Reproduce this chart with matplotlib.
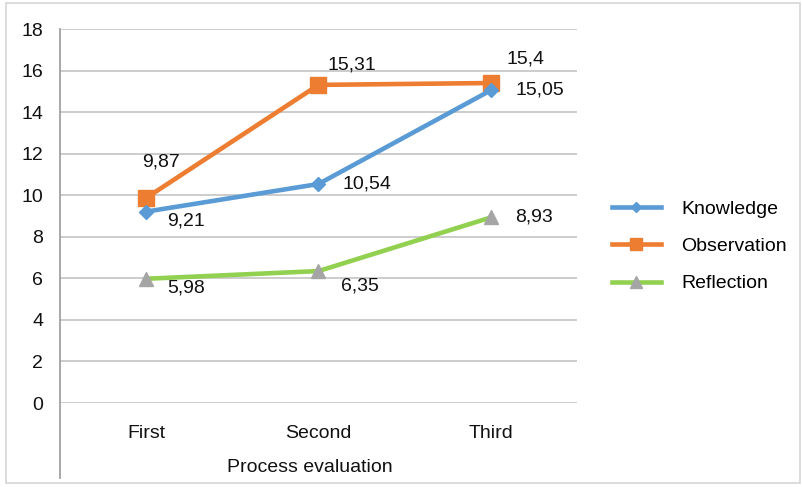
import matplotlib.pyplot as plt
from matplotlib.lines import Line2D
from matplotlib.patches import Rectangle

plt.rcParams["font.family"] = ["Liberation Sans", "DejaVu Sans"]

stages = ["First", "Second", "Third"]
knowledge = [9.21, 10.54, 15.05]
observation = [9.87, 15.31, 15.4]
reflection = [5.98, 6.35, 8.93]
y_ticks = [0, 2, 4, 6, 8, 10, 12, 14, 16, 18]

# label offsets in points (dx, dy) for each series
knowledge_offsets = [(29, -7), (35, 0), (35, 0)]
observation_offsets = [(11, 26), (24, 14), (25, 17)]
reflection_offsets = [(29, -7), (30, -11), (31, 0)]

W, H = 803, 487
FS = 14
fig = plt.figure(figsize=(W / 100, H / 100), dpi=100)
ax = fig.add_axes([60 / W, 1 - 403 / H, 517 / W, 374 / H])

x = list(range(len(stages)))
ax.plot(x, knowledge, color="#5B9BD5", lw=3.3, marker="D", ms=7,
        mec="#5B9BD5", mfc="#5B9BD5", label="Knowledge", zorder=4)
ax.plot(x, observation, color="#ED7D31", lw=3.3, marker="s", ms=11.5,
        mec="#ED7D31", mfc="#ED7D31", label="Observation", zorder=3)
ax.plot(x, reflection, color="#92D050", lw=3.3, marker="^", ms=10.5,
        mec="#A5A5A5", mfc="#A5A5A5", label="Reflection", zorder=3)

def fmt(v):
    return f"{v:g}".replace(".", ",")

for series, offsets in ((knowledge, knowledge_offsets),
                        (observation, observation_offsets),
                        (reflection, reflection_offsets)):
    for xi, v, off in zip(x, series, offsets):
        ax.annotate(fmt(v), (xi, v), xytext=off, textcoords="offset points",
                    ha="center", va="center", fontsize=FS, color="#111111")

ax.set_xlim(-0.5, 2.5)
ax.set_ylim(0, 18)
ax.set_yticks(y_ticks)
ax.set_xticks(x)
ax.set_xticklabels(stages)
ax.tick_params(axis="both", length=0, labelsize=FS, colors="#111111")
ax.tick_params(axis="y", pad=12)
ax.tick_params(axis="x", pad=16)
ax.grid(axis="y", color="#C4C4C4", lw=1.2)
ax.set_axisbelow(True)
for side in ("top", "right", "bottom", "left"):
    ax.spines[side].set_visible(False)

ax.set_xlabel("Process evaluation", fontsize=FS, color="#111111")
ax.xaxis.set_label_coords((310 - 60) / 517, -(467 - 403) / 374, transform=ax.transAxes)
ax.xaxis.label.set_va("center")

# vertical axis line running down past the category labels
fig.add_artist(Line2D([60 / W, 60 / W], [1 - 29 / H, 1 - 478 / H],
                      color="#9A9A9A", lw=1.2))
# chart border
fig.add_artist(Rectangle((6 / W, 4 / H), 794 / W, 480 / H, fill=False,
                         ec="#D6D6D6", lw=1.2))

ax.legend(loc="upper left", bbox_to_anchor=(612 / W, 1 - 200 / H),
          bbox_transform=fig.transFigure, frameon=False, fontsize=FS,
          handlelength=2.5, handletextpad=1.05, labelspacing=1.02,
          borderpad=0, borderaxespad=0, markerscale=0.8)

fig.savefig("out.png", dpi=100)
